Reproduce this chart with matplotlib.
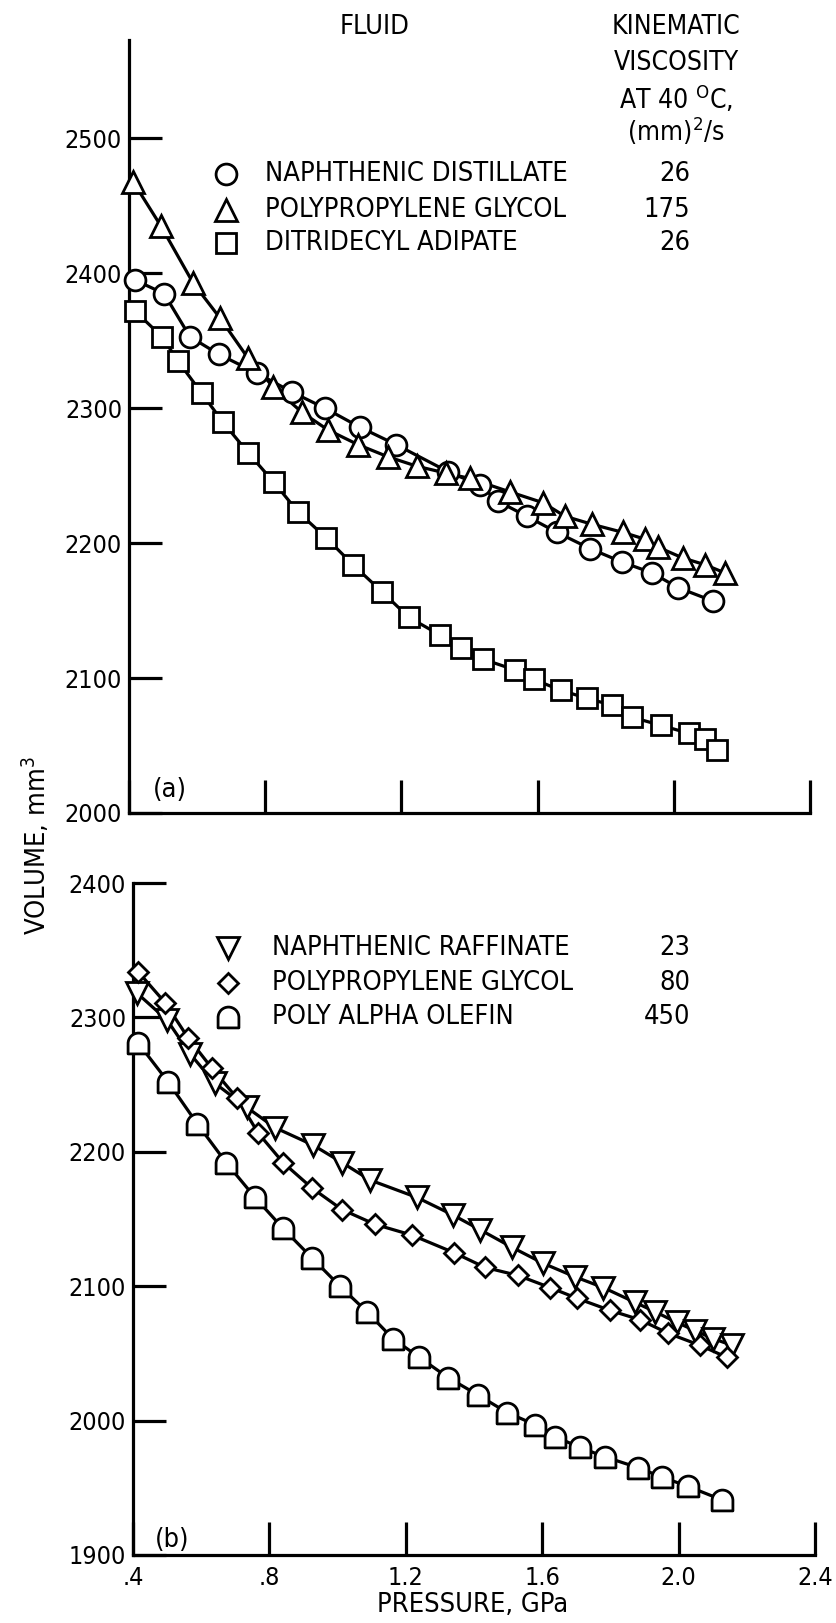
import matplotlib
matplotlib.use('Agg')
import matplotlib.pyplot as plt
from matplotlib import font_manager
from matplotlib.path import Path
from matplotlib.lines import Line2D
import numpy as np

names = {f.name for f in font_manager.fontManager.ttflist}
FONT = 'Liberation Sans Narrow' if 'Liberation Sans Narrow' in names else 'DejaVu Sans'
plt.rcParams['font.family'] = [FONT, 'DejaVu Sans']
plt.rcParams['font.stretch'] = 'condensed'
plt.rcParams['mathtext.fontset'] = 'custom'
plt.rcParams['mathtext.rm'] = FONT + ':stretch=condensed'
plt.rcParams['mathtext.it'] = FONT + ':stretch=condensed'
plt.rcParams['mathtext.bf'] = FONT + ':stretch=condensed'

# ---------------- data ----------------
# panel (a)
nd_x = [0.418, 0.503, 0.579, 0.664, 0.776, 0.879, 0.976, 1.078, 1.185, 1.337, 1.431, 1.484,
        1.568, 1.657, 1.754, 1.848, 1.936, 2.013, 2.116]
nd_v = [2395, 2385, 2353, 2340, 2326, 2312, 2300, 2286, 2273, 2253, 2243, 2231,
        2220, 2208, 2196, 2186, 2178, 2167, 2157]

ppg175_x = [0.412, 0.494, 0.588, 0.667, 0.750, 0.823, 0.908, 0.984, 1.073, 1.161, 1.246, 1.330,
            1.401, 1.519, 1.616, 1.680, 1.760, 1.851, 1.915, 1.954, 2.027, 2.092, 2.150]
ppg175_v = [2468, 2435, 2393, 2367, 2337, 2316, 2297, 2284, 2273, 2264, 2257, 2252,
            2248, 2238, 2230, 2220, 2214, 2208, 2203, 2197, 2189, 2184, 2178]

dta_x = [0.418, 0.497, 0.544, 0.614, 0.675, 0.750, 0.826, 0.897, 0.979, 1.058, 1.143, 1.222,
         1.313, 1.375, 1.440, 1.534, 1.589, 1.668, 1.745, 1.818, 1.877, 1.962, 2.045, 2.092, 2.127]
dta_v = [2372, 2353, 2335, 2311, 2290, 2267, 2245, 2223, 2204, 2184, 2164, 2145,
         2132, 2122, 2114, 2106, 2099, 2091, 2085, 2080, 2071, 2065, 2059, 2055, 2047]

# panel (b)
nr_x = [0.412, 0.500, 0.567, 0.640, 0.734, 0.816, 0.928, 1.013, 1.095, 1.233, 1.338, 1.418,
        1.511, 1.603, 1.696, 1.779, 1.872, 1.931, 1.995, 2.048, 2.101, 2.157]
nr_v = [2318, 2298, 2273, 2251, 2233, 2218, 2205, 2192, 2179, 2166, 2153, 2142,
        2129, 2117, 2107, 2099, 2088, 2081, 2073, 2067, 2061, 2056]

ppg80_x = [0.415, 0.494, 0.561, 0.632, 0.705, 0.767, 0.840, 0.925, 1.013, 1.110, 1.218, 1.341,
           1.432, 1.529, 1.623, 1.702, 1.799, 1.887, 1.969, 2.063, 2.142]
ppg80_v = [2334, 2311, 2285, 2262, 2240, 2214, 2192, 2173, 2157, 2146, 2138, 2125,
           2114, 2108, 2099, 2091, 2082, 2075, 2065, 2056, 2047]

pao_x = [0.415, 0.503, 0.588, 0.673, 0.758, 0.840, 0.925, 1.007, 1.086, 1.162, 1.240, 1.324,
         1.412, 1.497, 1.579, 1.638, 1.711, 1.784, 1.881, 1.951, 2.028, 2.127]
pao_v = [2281, 2252, 2221, 2192, 2166, 2143, 2121, 2100, 2081, 2061, 2047, 2032,
         2019, 2006, 1997, 1988, 1980, 1973, 1965, 1958, 1951, 1941]

x_ticks = [0.4, 0.8, 1.2, 1.6, 2.0, 2.4]
x_ticklabels = ['.4', '.8', '1.2', '1.6', '2.0', '2.4']
ya_ticks = [2000, 2100, 2200, 2300, 2400, 2500]
yb_ticks = [1900, 2000, 2100, 2200, 2300, 2400]

legend_a = ['NAPHTHENIC DISTILLATE', 'POLYPROPYLENE GLYCOL', 'DITRIDECYL ADIPATE']
visc_a = ['26', '175', '26']
legend_b = ['NAPHTHENIC RAFFINATE', 'POLYPROPYLENE GLYCOL', 'POLY ALPHA OLEFIN']
visc_b = ['23', '80', '450']

# ---------------- markers ----------------
arc = Path.arc(0, 180)
dome_verts = np.concatenate([[[-1, -1], [1, -1]], arc.vertices, [[-1, -1]]])
dome_codes = [Path.MOVETO, Path.LINETO, Path.LINETO] + list(arc.codes[1:]) + [Path.CLOSEPOLY]
DOME = Path(dome_verts, dome_codes)

W, H = 836, 1623
fig = plt.figure(figsize=(W / 100, H / 100), dpi=100)

def fx(px):
    return px / W

def fy(py):
    return 1 - py / H

axa = fig.add_axes([fx(129), fy(813), fx(810) - fx(129), fy(40) - fy(813)])
axb = fig.add_axes([fx(133), fy(1555), fx(815) - fx(133), fy(883) - fy(1555)])

LW = 2.3
MEW = 2.0
FS = 19.5
TFS = 18

series_a = [(nd_x, nd_v, 'o', 15), (ppg175_x, ppg175_v, '^', 15.5), (dta_x, dta_v, 's', 14)]
series_b = [(nr_x, nr_v, 'v', 15.5), (ppg80_x, ppg80_v, 'D', 10.5), (pao_x, pao_v, DOME, 15)]

for ax, series in ((axa, series_a), (axb, series_b)):
    for xs, vs, m, ms in series:
        ax.plot(xs, vs, '-', color='black', lw=LW, zorder=2, clip_on=False)
    for xs, vs, m, ms in series:
        ax.plot(xs, vs, linestyle='none', marker=m, ms=ms, mfc='white', mec='black',
                mew=MEW, zorder=3, clip_on=False)

for ax, yt, ylim in ((axa, ya_ticks, (2000, 2573)), (axb, yb_ticks, (1900, 2400))):
    ax.set_xlim(0.4, 2.4)
    ax.set_ylim(*ylim)
    ax.spines['top'].set_visible(False)
    ax.spines['right'].set_visible(False)
    for s in ('left', 'bottom'):
        ax.spines[s].set_linewidth(LW)
    ax.set_xticks(x_ticks)
    ax.set_yticks(yt)
    ax.set_yticklabels([str(t) for t in yt])
    ax.tick_params(direction='in', length=24, width=LW, labelsize=TFS, pad=5)
    ax.tick_params(axis='x', pad=8)
    ax.patch.set_visible(False)

axa.set_xticklabels([])
axb.set_xticklabels(x_ticklabels)

axa.text(0.06, 0.03, '(a)', transform=axa.transAxes, fontsize=FS, ha='center', va='center')
axb.text(0.057, 0.022, '(b)', transform=axb.transAxes, fontsize=FS, ha='center', va='center')

# headers
fig.text(fx(375), fy(27), 'FLUID', fontsize=FS, ha='center', va='center')
hdr = ['KINEMATIC', 'VISCOSITY', r'AT 40 $^{\mathrm{O}}$C,', r'(mm)$^2$/s']
hdr_y = [27, 63, 99, 131]
for t, yy in zip(hdr, hdr_y):
    fig.text(fx(676), fy(yy), t, fontsize=FS - 0.5, ha='center', va='center')

# legends
def legend(rows_y, mx, tx, vx, markers, labels, vals):
    for yy, (m, ms), lab, v in zip(rows_y, markers, labels, vals):
        fig.add_artist(Line2D([fx(mx)], [fy(yy)], transform=fig.transFigure, marker=m, ms=ms,
                              mfc='white', mec='black', mew=MEW, linestyle='none'))
        fig.text(fx(tx), fy(yy), lab, fontsize=FS, ha='left', va='center')
        fig.text(fx(vx), fy(yy), v, fontsize=FS, ha='right', va='center')

legend([174, 210, 243], 226, 265, 690, [('o', 15), ('^', 15.5), ('s', 14)], legend_a, visc_a)
legend([948, 983, 1017], 228, 272, 690, [('v', 15.5), ('D', 10.5), (DOME, 15)], legend_b, visc_b)

fig.text(fx(36), fy(846), r'VOLUME, mm$^3$', fontsize=FS, rotation=90, ha='center', va='center')
fig.text(fx(473), fy(1605), 'PRESSURE, GPa', fontsize=FS, ha='center', va='center')

fig.savefig('out.png', dpi=100, facecolor='white')
